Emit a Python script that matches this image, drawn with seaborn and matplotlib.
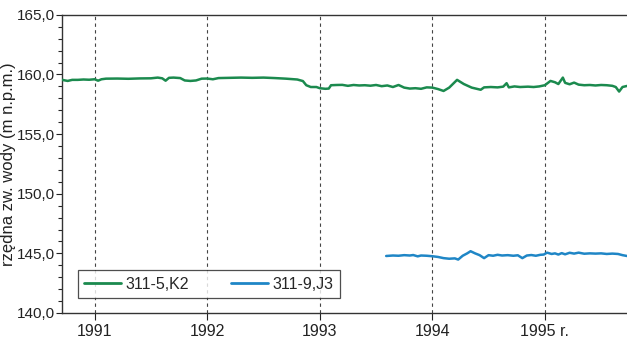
import matplotlib
matplotlib.use("Agg")
import matplotlib.pyplot as plt
from matplotlib.ticker import MultipleLocator, FuncFormatter
import seaborn as sns
import pandas as pd

# ---- data ----
green_t = [1990.71, 1990.76, 1990.80, 1990.85, 1990.90, 1990.95, 1991.00, 1991.03, 1991.06, 1991.10,
           1991.20, 1991.30, 1991.40, 1991.50, 1991.56, 1991.60, 1991.63, 1991.66, 1991.70, 1991.76,
           1991.80, 1991.85, 1991.90, 1991.95, 1992.00, 1992.05, 1992.10, 1992.20, 1992.30, 1992.40,
           1992.50, 1992.60, 1992.70, 1992.80, 1992.85, 1992.88, 1992.92, 1992.97, 1993.00, 1993.05,
           1993.08, 1993.10, 1993.15, 1993.20, 1993.25, 1993.30, 1993.35, 1993.40, 1993.45, 1993.50,
           1993.55, 1993.60, 1993.65, 1993.70, 1993.75, 1993.80, 1993.85, 1993.90, 1993.95, 1994.00,
           1994.05, 1994.10, 1994.15, 1994.22, 1994.28, 1994.35, 1994.43, 1994.46, 1994.52, 1994.58,
           1994.63, 1994.66, 1994.68, 1994.73, 1994.78, 1994.85, 1994.90, 1994.95, 1995.00, 1995.05,
           1995.09, 1995.12, 1995.16, 1995.18, 1995.22, 1995.26, 1995.30, 1995.35, 1995.40, 1995.45,
           1995.50, 1995.55, 1995.60, 1995.63, 1995.66, 1995.69, 1995.73]
green_v = [159.55, 159.46, 159.55, 159.55, 159.58, 159.56, 159.60, 159.48, 159.60, 159.65,
           159.66, 159.64, 159.67, 159.68, 159.74, 159.68, 159.48, 159.72, 159.74, 159.70,
           159.50, 159.46, 159.50, 159.65, 159.66, 159.60, 159.70, 159.72, 159.74, 159.72,
           159.74, 159.70, 159.65, 159.58, 159.45, 159.10, 158.95, 158.95, 158.85, 158.80,
           158.82, 159.10, 159.12, 159.13, 159.05, 159.12, 159.08, 159.10, 159.06, 159.12,
           159.02, 159.08, 158.95, 159.12, 158.90, 158.82, 158.85, 158.80, 158.92, 158.90,
           158.78, 158.62, 158.90, 159.55, 159.20, 158.90, 158.72, 158.92, 158.95, 158.92,
           158.98, 159.27, 158.92, 159.00, 158.95, 158.98, 158.95, 159.00, 159.10, 159.46,
           159.35, 159.20, 159.74, 159.30, 159.18, 159.32, 159.15, 159.10, 159.12, 159.08,
           159.12, 159.10, 159.05, 158.95, 158.57, 158.95, 159.04]

blue_t = [1993.59, 1993.65, 1993.70, 1993.75, 1993.80, 1993.83, 1993.87, 1993.90, 1993.95, 1994.00,
          1994.05, 1994.10, 1994.15, 1994.20, 1994.23, 1994.27, 1994.31, 1994.34, 1994.38, 1994.42,
          1994.46, 1994.50, 1994.54, 1994.58, 1994.62, 1994.67, 1994.72, 1994.76, 1994.80, 1994.84,
          1994.88, 1994.92, 1994.96, 1994.99, 1995.02, 1995.06, 1995.09, 1995.12, 1995.15, 1995.18,
          1995.22, 1995.26, 1995.30, 1995.35, 1995.40, 1995.45, 1995.50, 1995.55, 1995.60, 1995.65,
          1995.69, 1995.73]
blue_v = [144.78, 144.82, 144.80, 144.85, 144.82, 144.86, 144.75, 144.82, 144.80, 144.76,
          144.70, 144.60, 144.55, 144.58, 144.48, 144.80, 145.00, 145.18, 145.00, 144.85,
          144.60, 144.85, 144.80, 144.88, 144.82, 144.85, 144.80, 144.84, 144.60, 144.82,
          144.86, 144.80, 144.88, 144.90, 145.06, 144.95, 145.00, 144.90, 145.02, 144.92,
          145.05, 144.98, 145.06, 144.97, 145.00, 144.98, 145.00, 144.95, 144.98, 144.95,
          144.85, 144.78]

series_names = ["311-5,K2", "311-9,J3"]
year_ticks = [1991, 1992, 1993, 1994, 1995]
year_labels = ["1991", "1992", "1993", "1994", "1995 r."]
y_label = "rzędna zw. wody (m n.p.m.)"

df = pd.concat([
    pd.DataFrame({"t": green_t, "v": green_v, "s": series_names[0]}),
    pd.DataFrame({"t": blue_t, "v": blue_v, "s": series_names[1]}),
])

sns.set_style("ticks")
plt.rcParams["font.family"] = ["Liberation Sans", "DejaVu Sans"]

fig = plt.figure(figsize=(6.27, 3.38), dpi=100)
ax = fig.add_axes([0.099, 0.074, 0.901, 0.882])

for x in year_ticks:
    ax.axvline(x, color="#444444", lw=0.8, ls=(0, (3, 3)), zorder=1)

sns.lineplot(data=df, x="t", y="v", hue="s", estimator=None, sort=False,
             palette=["#1b8a4e", "#1f86c6"], linewidth=1.8, ax=ax, zorder=3)

ax.set_xlim(1990.71, 1995.73)
ax.set_ylim(140, 165)
ax.set_xticks(year_ticks)
ax.set_xticklabels(year_labels, fontsize=11.5)
ax.yaxis.set_major_locator(MultipleLocator(5))
ax.yaxis.set_minor_locator(MultipleLocator(1))
ax.yaxis.set_major_formatter(FuncFormatter(lambda v, p: f"{v:.1f}".replace(".", ",")))
ax.tick_params(axis="y", labelsize=11, length=4, width=0.8, colors="#222222", pad=1)
ax.tick_params(axis="y", which="minor", length=3, width=0.8)
ax.tick_params(axis="x", length=5, width=0.8, pad=3, colors="#222222")
ax.set_xlabel("")
ax.set_ylabel(y_label, fontsize=12, color="#222222")
ax.yaxis.set_label_coords(-0.082, 0.5)
ax.spines["right"].set_visible(False)
for s in ["left", "bottom", "top"]:
    ax.spines[s].set_color("#333333")
    ax.spines[s].set_linewidth(1.0)

handles, labels = ax.get_legend_handles_labels()
leg = ax.legend(handles, labels, loc="lower left", bbox_to_anchor=(0.028, 0.05), ncol=2,
                frameon=True, fancybox=False, edgecolor="#222222", fontsize=11.5,
                handlelength=2.3, columnspacing=2.6, borderpad=0.4, handletextpad=0.3,
                borderaxespad=0)
leg.get_frame().set_linewidth(0.9)
for line in leg.get_lines():
    line.set_linewidth(2.0)

fig.savefig("out.png", dpi=100)
